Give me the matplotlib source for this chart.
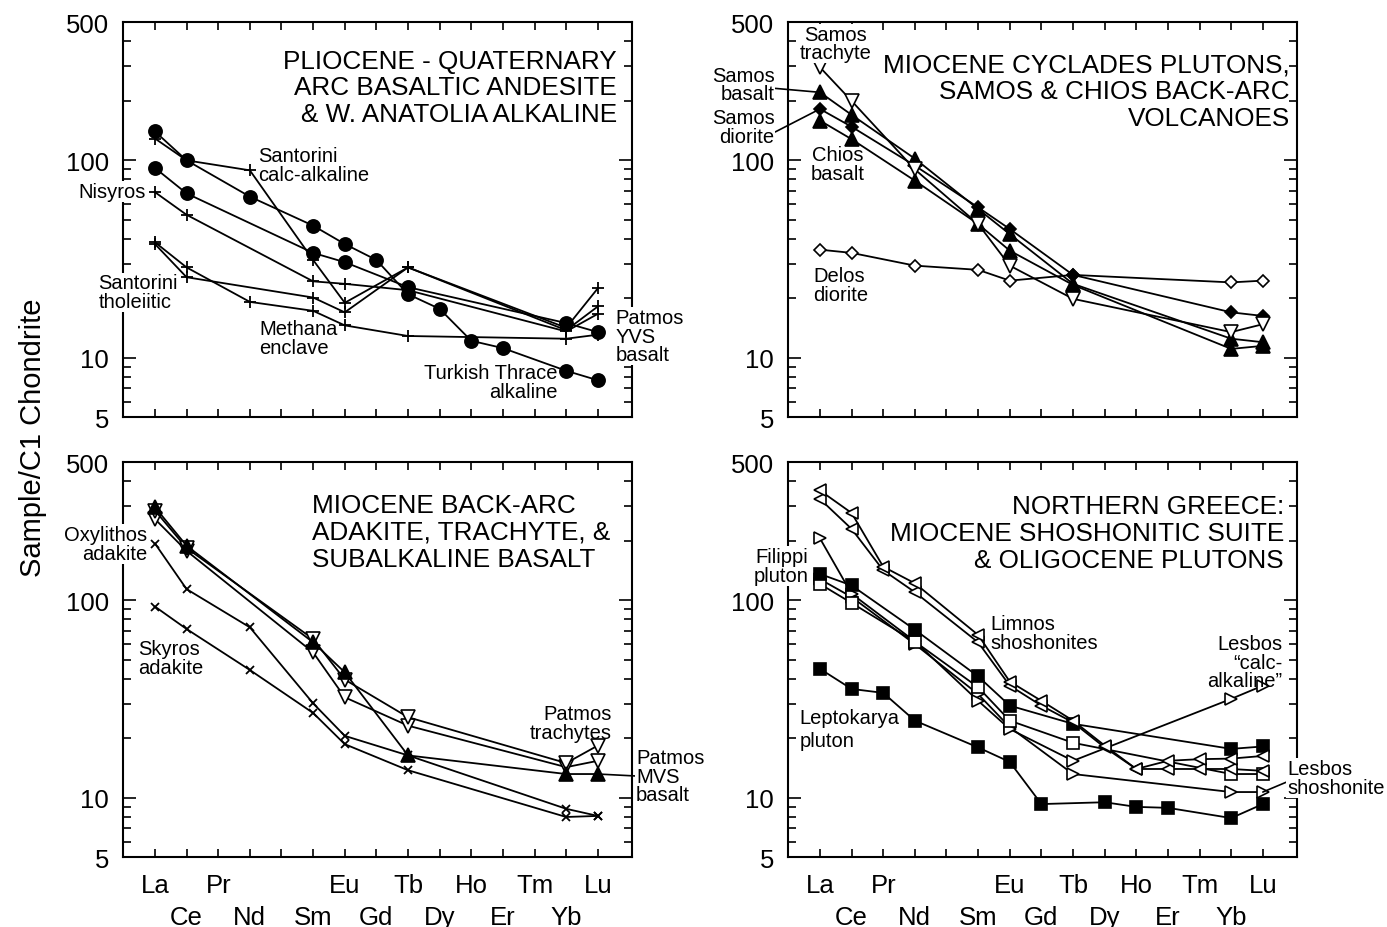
import matplotlib
matplotlib.use("Agg")
import matplotlib.pyplot as plt
from matplotlib.ticker import FixedLocator, NullFormatter

plt.rcParams['font.family'] = ['Liberation Sans', 'DejaVu Sans']

# Rare-earth elements in atomic-number order (Pm has no data and no label)
REE = ['La', 'Ce', 'Pr', 'Nd', 'Pm', 'Sm', 'Eu', 'Gd', 'Tb', 'Dy', 'Ho', 'Er', 'Tm', 'Yb', 'Lu']
Z = dict(zip(REE, range(57, 72)))
ROW1 = ['La', 'Pr', 'Pm', 'Eu', 'Tb', 'Ho', 'Tm', 'Lu']
ROW2 = ['Ce', 'Nd', 'Sm', 'Gd', 'Dy', 'Er', 'Yb']

Y_MAJOR = [5, 10, 100, 500]
Y_MINOR = [6, 7, 8, 9, 20, 30, 40, 50, 60, 70, 80, 90, 200, 300, 400]

# ---- Pliocene-Quaternary arc basaltic andesite & W. Anatolia alkaline ----
thrace_el = ['La', 'Ce', 'Nd', 'Sm', 'Eu', 'Gd', 'Tb', 'Dy', 'Ho', 'Er', 'Yb', 'Lu']
thrace_val = [140, 100, 65.5, 46.7, 37.7, 31.3, 21.0, 17.7, 12.2, 11.2, 8.6, 7.7]
patmos_yvs_el = ['La', 'Ce', 'Sm', 'Eu', 'Tb', 'Yb', 'Lu']
patmos_yvs_val = [91.5, 68, 34, 30.5, 22.8, 15.0, 13.5]
santorini_ca_el = ['La', 'Ce', 'Nd', 'Sm', 'Eu', 'Tb', 'Yb', 'Lu']
santorini_ca_val = [129, 100, 89, 31.3, 19.0, 28.7, 14.2, 22.5]
nisyros_el = ['La', 'Ce', 'Sm', 'Eu', 'Tb', 'Yb', 'Lu']
nisyros_val = [69, 53, 24.4, 23.7, 22.0, 13.6, 16.7]
methana_el = ['La', 'Ce', 'Sm', 'Eu', 'Tb', 'Yb', 'Lu']
methana_val = [37.7, 25.6, 20.2, 17.0, 28.7, 13.8, 18.2]
santorini_th_el = ['La', 'Ce', 'Nd', 'Sm', 'Eu', 'Tb', 'Yb', 'Lu']
santorini_th_val = [38.5, 28.7, 19.2, 17.3, 14.6, 12.9, 12.5, 13.1]

# ---- Miocene Cyclades plutons, Samos & Chios back-arc volcanoes ----
cyc_el = ['La', 'Ce', 'Nd', 'Sm', 'Eu', 'Tb', 'Yb', 'Lu']
samos_trachyte_val = [296, 200, 90, 47.6, 29.3, 19.9, 13.5, 14.8]
samos_basalt_val = [221, 170, 102, 56.7, 42.3, 23.7, 12.5, 12.0]
samos_diorite_val = [182, 148, 94, 57.8, 44.9, 26.3, 17.0, 16.3]
chios_basalt_val = [159, 128, 78.9, 47.6, 34.9, 23.4, 11.1, 11.5]
delos_diorite_val = [35.3, 34.0, 29.3, 27.9, 24.6, 26.3, 24.1, 24.6]

# ---- Miocene back-arc adakite, trachyte & subalkaline basalt ----
adakite_el = ['La', 'Ce', 'Nd', 'Sm', 'Eu', 'Tb', 'Yb', 'Lu']
oxylithos_val = [194, 114, 73, 30.1, 20.6, 16.4, 8.8, 8.1]
skyros_val = [93, 71.6, 44.4, 26.9, 18.7, 13.8, 8.0, 8.1]
patmos_el = ['La', 'Ce', 'Sm', 'Eu', 'Tb', 'Yb', 'Lu']
patmos_mvs_val = [296, 189, 61.3, 43.2, 16.4, 13.2, 13.2]
patmos_tr1_val = [285, 184, 63.7, 39.7, 25.6, 15.0, 18.4]
patmos_tr2_val = [258, 178, 54.5, 32.3, 23.2, 14.3, 15.4]

# ---- Northern Greece: Miocene shoshonitic suite & Oligocene plutons ----
pluton_el = ['La', 'Ce', 'Nd', 'Sm', 'Eu', 'Tb', 'Yb', 'Lu']
filippi_val = [136, 119, 71, 41.2, 29.3, 23.7, 17.7, 18.2]
pluton_open_val = [121, 97, 61.8, 36.3, 24.6, 19.0, 13.2, 13.2]
lepto_el = ['La', 'Ce', 'Pr', 'Nd', 'Sm', 'Eu', 'Gd', 'Dy', 'Ho', 'Er', 'Yb', 'Lu']
lepto_val = [45, 35.6, 34.0, 24.6, 18.0, 15.2, 9.3, 9.5, 9.0, 8.9, 7.9, 9.3]
limnos_el = ['La', 'Ce', 'Pr', 'Nd', 'Sm', 'Eu', 'Gd', 'Tb', 'Dy', 'Ho', 'Er', 'Tm', 'Yb', 'Lu']
limnos1_val = [360, 277, 148, 122, 66.8, 38.8, 31.0, 24.6, 18.4, 14.0, 15.4, 15.7, 15.8, 16.3]
limnos2_val = [326, 230, 142, 110, 61.3, 37.0, 29.3, 24.1, 18.0, 14.0, 14.0, 14.0, 14.0, 13.7]
lesbos_el = ['La', 'Ce', 'Nd', 'Sm', 'Eu', 'Tb', 'Yb', 'Lu']
lesbos_ca_val = [206, 108, 62, 31.0, 22.3, 15.4, 31.7, 37.0]
lesbos_sho_val = [128, 104, 60, 33.5, 22.8, 13.2, 10.7, 10.7]

LABEL_FS = 14.5
LABEL_LS = 0.98
TITLE_FS = 18.8
TICK_FS = 18.5


def setup(ax, xlabels):
    ax.set_yscale('log')
    ax.set_xlim(55.99, 72.08)
    ax.set_ylim(5, 500)
    # element labels alternate between two rows: upper row on major ticks,
    # lower row on minor ticks with a larger pad
    ax.xaxis.set_major_locator(FixedLocator([Z[e] for e in ROW1]))
    ax.xaxis.set_minor_locator(FixedLocator([Z[e] for e in ROW2]))
    if xlabels:
        ax.set_xticklabels(['' if e == 'Pm' else e for e in ROW1], fontsize=TICK_FS)
        ax.set_xticklabels(ROW2, minor=True, fontsize=TICK_FS)
    else:
        ax.set_xticklabels([])
        ax.set_xticklabels([], minor=True)
    ax.yaxis.set_major_locator(FixedLocator(Y_MAJOR))
    ax.yaxis.set_minor_locator(FixedLocator(Y_MINOR))
    ax.yaxis.set_minor_formatter(NullFormatter())
    ax.set_yticklabels([str(v) for v in Y_MAJOR], fontsize=TICK_FS)
    ax.tick_params(axis='both', which='both', direction='in', top=True, right=True,
                   width=1.2, color='black')
    ax.tick_params(axis='x', which='major', length=6, pad=11.5)
    ax.tick_params(axis='x', which='minor', length=6, pad=34.5)
    ax.tick_params(axis='y', which='major', length=9.5, pad=10)
    ax.tick_params(axis='y', which='minor', length=5.5)
    for sp in ax.spines.values():
        sp.set_linewidth(1.5)


def series(ax, els, vals, marker, filled=True, ms=9.5, mew=1.2, z=3):
    ax.plot([Z[e] for e in els], vals, color='black', lw=1.3, marker=marker, ms=ms,
            mfc='black' if filled else 'white', mec='black', mew=mew, zorder=z,
            clip_on=False)


def label(ax, x, y, s, ha='left', box=False, ls=LABEL_LS):
    kw = {}
    if box:
        kw['bbox'] = dict(facecolor='white', edgecolor='none', pad=0.6)
    ax.text(x, y, s, ha=ha, va='center', fontsize=LABEL_FS, linespacing=ls,
            multialignment=ha, clip_on=False, zorder=6, **kw)


def pointer(ax, s, xy, xytext, ha, relpos, ls=LABEL_LS):
    ax.annotate(s, xy=xy, xytext=xytext, textcoords='data', ha=ha, va='center',
                fontsize=LABEL_FS, linespacing=ls, multialignment=ha,
                annotation_clip=False, zorder=6,
                bbox=dict(facecolor='white', edgecolor='none', pad=0.6),
                arrowprops=dict(arrowstyle='-', color='black', lw=1.2,
                                shrinkA=0, shrinkB=0, relpos=relpos))


def title(ax, x, y, s, ha):
    ax.text(x, y, s, transform=ax.transAxes, ha=ha, va='center', fontsize=TITLE_FS,
            linespacing=1.155, multialignment=ha, zorder=6)


fig = plt.figure(figsize=(13.87, 9.28), dpi=100)
L1, L2, W = 123 / 1387, 788 / 1387, 509 / 1387
B1, B2, H = 1 - 418.3 / 928, 1 - 858.3 / 928, 395 / 928
axA = fig.add_axes([L1, B1, W, H])
axB = fig.add_axes([L2, B1, W, H])
axC = fig.add_axes([L1, B2, W, H])
axD = fig.add_axes([L2, B2, W, H])
setup(axA, False)
setup(axB, False)
setup(axC, True)
setup(axD, True)

# Panel A
series(axA, santorini_th_el, santorini_th_val, '+', ms=8.5, mew=1.3)
series(axA, methana_el, methana_val, '+', ms=8.5, mew=1.3)
series(axA, nisyros_el, nisyros_val, '+', ms=8.5, mew=1.3)
series(axA, santorini_ca_el, santorini_ca_val, '+', ms=8.5, mew=1.3)
series(axA, patmos_yvs_el, patmos_yvs_val, 'o', ms=9.5)
series(axA, thrace_el, thrace_val, 'o', ms=9.5)
title(axA, 0.9705, 0.835, 'PLIOCENE - QUATERNARY\nARC BASALTIC ANDESITE\n& W. ANATOLIA ALKALINE', 'right')
label(axA, 60.27, 94.7, 'Santorini\ncalc-alkaline')
label(axA, 56.70, 69.4, 'Nisyros', ha='right', box=True)
label(axA, 55.21, 21.5, 'Santorini\ntholeiitic', box=True)
label(axA, 60.30, 12.6, 'Methana\nenclave')
label(axA, 69.72, 7.55, 'Turkish Thrace\nalkaline', ha='right')
label(axA, 71.55, 12.9, 'Patmos\nYVS\nbasalt', box=True)

# Panel B
series(axB, cyc_el, delos_diorite_val, 'D', filled=False, ms=6.0)
series(axB, cyc_el, chios_basalt_val, '^', ms=9.5)
series(axB, cyc_el, samos_diorite_val, 'D', ms=6.5)
series(axB, cyc_el, samos_basalt_val, '^', ms=9.5)
series(axB, cyc_el, samos_trachyte_val, 'v', filled=False, ms=9.5)
title(axB, 0.986, 0.826, 'MIOCENE CYCLADES PLUTONS,\nSAMOS & CHIOS BACK-ARC\nVOLCANOES', 'right')
label(axB, 57.49, 390, 'Samos\ntrachyte', ha='center', box=True)
pointer(axB, 'Samos\nbasalt', (Z['La'], samos_basalt_val[0]), (55.56, 242), 'right', (1.0, 0.4))
pointer(axB, 'Samos\ndiorite', (Z['La'], samos_diorite_val[0]), (55.56, 148), 'right', (1.0, 0.35))
label(axB, 57.55, 95.8, 'Chios\nbasalt', ha='center')
label(axB, 56.79, 23.4, 'Delos\ndiorite')

# Panel C
series(axC, adakite_el, skyros_val, 'x', ms=5.5, mew=1.3)
series(axC, adakite_el, oxylithos_val, 'x', ms=5.5, mew=1.3)
series(axC, patmos_el, patmos_tr2_val, 'v', filled=False, ms=9.5)
series(axC, patmos_el, patmos_tr1_val, 'v', filled=False, ms=9.5)
series(axC, patmos_el, patmos_mvs_val, '^', ms=9.5)
title(axC, 0.371, 0.8236, 'MIOCENE BACK-ARC\nADAKITE, TRACHYTE, &\nSUBALKALINE BASALT', 'left')
label(axC, 56.76, 193, 'Oxylithos\nadakite', ha='right', box=True)
label(axC, 56.47, 51, 'Skyros\nadakite')
label(axC, 71.45, 23.9, 'Patmos\ntrachytes', ha='right')
pointer(axC, 'Patmos\nMVS\nbasalt', (Z['Lu'], patmos_mvs_val[-1]), (72.21, 12.9), 'left', (0.0, 0.5))

# Panel D
series(axD, lepto_el, lepto_val, 's', ms=8.5)
series(axD, lesbos_el, lesbos_sho_val, '>', filled=False, ms=9.0)
series(axD, lesbos_el, lesbos_ca_val, '>', filled=False, ms=9.0)
series(axD, pluton_el, pluton_open_val, 's', filled=False, ms=8.5)
series(axD, pluton_el, filippi_val, 's', ms=8.5)
series(axD, limnos_el, limnos2_val, '<', filled=False, ms=9.0)
series(axD, limnos_el, limnos1_val, '<', filled=False, ms=9.0)
title(axD, 0.974, 0.821, 'NORTHERN GREECE:\nMIOCENE SHOSHONITIC SUITE\n& OLIGOCENE PLUTONS', 'right')
label(axD, 56.63, 149, 'Filippi\npluton', ha='right', box=True)
label(axD, 56.35, 22.3, 'Leptokarya\npluton', ls=1.27)
label(axD, 62.38, 68.4, 'Limnos\nshoshonites')
label(axD, 71.61, 48.7, 'Lesbos\n\u201ccalc-\nalkaline\u201d', ha='right')
pointer(axD, 'Lesbos\nshoshonite', (Z['Lu'], lesbos_sho_val[-1]), (71.77, 12.6), 'left', (0.0, 0.4))

fig.text(0.0238, 0.528, 'Sample/C1 Chondrite', rotation=90, ha='center', va='center', fontsize=21)

fig.savefig('out.png', dpi=100)
